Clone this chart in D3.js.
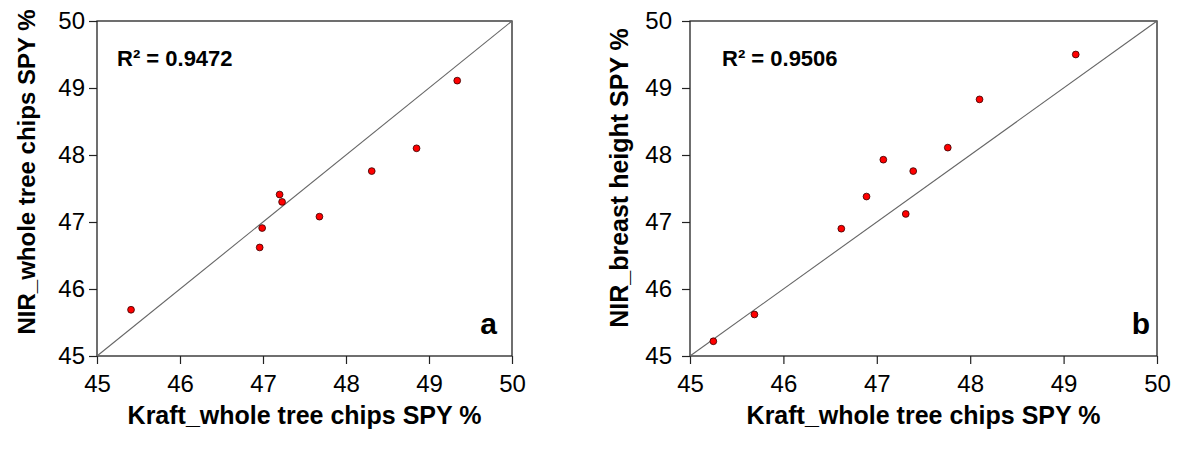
<!DOCTYPE html>
<html lang="en">
<head>
    <meta charset="utf-8" />
    <script src="https://cdn.jsdelivr.net/npm/d3@7"></script>
    <style type="text/css">
        body {
            margin: 0;
            background: #fff;
        }

        svg text {
            font-family: 'Liberation Sans', Arial, sans-serif;
            fill: #000;
        }
    </style>
</head>
<body>
    <div class="svg-box"></div>
    <script type="text/javascript">
        // axis ticks shared by both panels
        var tickValues = [45, 46, 47, 48, 49, 50];

        // panel a: kraft vs NIR whole tree chips
        var kraftA = [45.41, 46.96, 46.99, 47.20, 47.23, 47.68, 48.31, 48.85, 49.34];
        var nirWholeA = [45.69, 46.62, 46.91, 47.41, 47.30, 47.08, 47.76, 48.10, 49.11];

        // panel b: kraft vs NIR breast height
        var kraftB = [45.25, 45.69, 46.62, 46.89, 47.07, 47.31, 47.39, 47.76, 48.10, 49.13];
        var nirBreastB = [45.22, 45.62, 46.90, 47.38, 47.93, 47.12, 47.76, 48.11, 48.83, 49.50];

        var panels = [
            { xs: kraftA, ys: nirWholeA, r2: 'R\u00b2 = 0.9472', tag: 'a',
              xTitle: 'Kraft_whole tree chips SPY %', yTitle: 'NIR_whole tree chips SPY %',
              left: 97, right: 512, labelGap: 4, r2x: 117, yTitleX: 35, yTitleY: 172, yTitleSize: 24, tagX: 497 },
            { xs: kraftB, ys: nirBreastB, r2: 'R\u00b2 = 0.9506', tag: 'b',
              xTitle: 'Kraft_whole tree chips SPY %', yTitle: 'NIR_breast height SPY %',
              left: 690, right: 1157, labelGap: 10, r2x: 722, yTitleX: 628, yTitleY: 178, yTitleSize: 25, tagX: 1150 }
        ];

        var svgWidth = 1182, svgHeight = 454;
        var plotTop = 21, plotBottom = 356;

        var svg = d3.select('div.svg-box')
            .append('svg')
            .attr('width', svgWidth)
            .attr('height', svgHeight);

        panels.forEach(function (p) {
            var x = d3.scaleLinear().domain([45, 50]).range([p.left, p.right]);
            var y = d3.scaleLinear().domain([45, 50]).range([plotBottom, plotTop]);
            var g = svg.append('g');

            // x axis
            var xAxis = g.append('g')
                .attr('transform', 'translate(0,' + plotBottom + ')')
                .call(d3.axisBottom(x).tickValues(tickValues).tickSize(8).tickPadding(11).tickFormat(d3.format('d')));
            xAxis.selectAll('text').style('font-size', '24px');

            // y axis
            var yAxis = g.append('g')
                .attr('transform', 'translate(' + p.left + ',0)')
                .call(d3.axisLeft(y).tickValues(tickValues).tickSize(8).tickPadding(p.labelGap).tickFormat(d3.format('d')));
            yAxis.selectAll('text').style('font-size', '24px');

            g.selectAll('.domain').remove();
            g.selectAll('.tick line').attr('stroke', '#222').attr('stroke-width', 1.2);

            // plot frame
            g.append('rect')
                .attr('x', p.left)
                .attr('y', plotTop)
                .attr('width', p.right - p.left)
                .attr('height', plotBottom - plotTop)
                .attr('fill', 'none')
                .attr('stroke', '#222')
                .attr('stroke-width', 1.3);

            // 1:1 line
            g.append('line')
                .attr('x1', x(45)).attr('y1', y(45))
                .attr('x2', x(50)).attr('y2', y(50))
                .attr('stroke', '#666')
                .attr('stroke-width', 1.1);

            g.selectAll('circle')
                .data(p.xs.map(function (v, i) { return [v, p.ys[i]]; }))
                .enter()
                .append('circle')
                .attr('cx', function (d) { return x(d[0]); })
                .attr('cy', function (d) { return y(d[1]); })
                .attr('r', 3.4)
                .attr('fill', '#ff0000')
                .attr('stroke', '#330000')
                .attr('stroke-width', 0.8);

            g.append('text')
                .attr('x', p.r2x)
                .attr('y', 66)
                .style('font-size', '22px')
                .style('font-weight', 'bold')
                .text(p.r2);

            g.append('text')
                .attr('x', p.tagX)
                .attr('y', 334)
                .attr('text-anchor', 'end')
                .style('font-size', '30px')
                .style('font-weight', 'bold')
                .text(p.tag);

            g.append('text')
                .attr('x', (p.left + p.right) / 2)
                .attr('y', 424)
                .attr('text-anchor', 'middle')
                .style('font-size', '25px')
                .style('font-weight', 'bold')
                .text(p.xTitle);

            g.append('text')
                .attr('transform', 'translate(' + p.yTitleX + ',' + p.yTitleY + ') rotate(-90)')
                .attr('text-anchor', 'middle')
                .style('font-size', p.yTitleSize + 'px')
                .style('font-weight', 'bold')
                .text(p.yTitle);
        });
    </script>
</body>
</html>
